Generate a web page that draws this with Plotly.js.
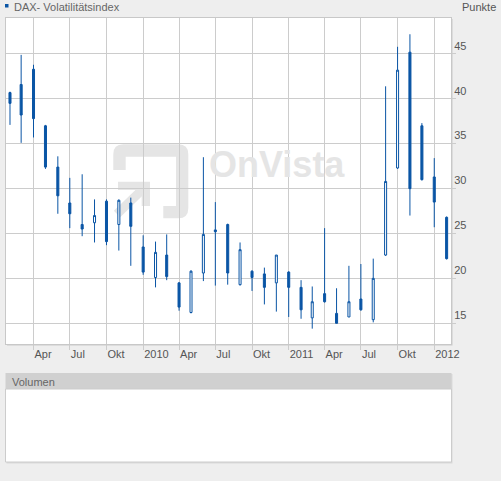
<!DOCTYPE html>
<html><head><meta charset="utf-8">
<script src="https://cdn.plot.ly/plotly-3.0.1.min.js"></script>
<style>html,body{margin:0;padding:0;background:#eeeeee;} #chart{width:501px;height:481px;}</style>
</head><body><div id="chart"></div>
<script>
const months = ['2009-02-01','2009-03-01','2009-04-01','2009-05-01','2009-06-01','2009-07-01','2009-08-01','2009-09-01','2009-10-01','2009-11-01','2009-12-01',
  '2010-01-01','2010-02-01','2010-03-01','2010-04-01','2010-05-01','2010-06-01','2010-07-01','2010-08-01','2010-09-01','2010-10-01','2010-11-01','2010-12-01',
  '2011-01-01','2011-02-01','2011-03-01','2011-04-01','2011-05-01','2011-06-01','2011-07-01','2011-08-01','2011-09-01','2011-10-01','2011-11-01','2011-12-01',
  '2012-01-01','2012-02-01'];
const openV  = [40.7,41.6,43.3,37.0,32.4,28.4,26.0,26.2,28.6,26.0,28.4, 23.5,20.1,22.6,19.5,16.2,20.6,25.4,26.0,19.3,20.8,20.5,19.5, 20.7,19.0,15.6,18.3,16.1,15.7,17.7,15.4,22.6,32.3,45.2,37.0, 31.3,26.8];
const highV  = [40.8,44.9,43.8,37.1,33.6,31.2,31.6,28.8,28.8,28.8,29.0, 24.8,24.1,24.9,19.6,20.9,33.5,28.5,26.1,24.0,20.9,21.2,22.6, 20.8,19.8,19.1,25.6,18.9,21.4,21.6,22.2,41.4,45.8,47.2,37.3, 33.4,26.9];
const lowV   = [37.1,35.1,35.7,32.2,27.2,25.6,24.7,24.0,23.7,23.1,21.4, 20.4,19.0,19.8,16.4,16.1,19.7,19.2,19.3,19.2,18.6,17.1,16.3, 15.7,15.5,14.4,17.3,15.0,15.7,16.4,15.1,22.5,32.2,27.0,30.9, 25.7,22.1];
const closeV = [39.5,38.2,37.8,32.4,29.2,27.2,25.5,27.0,24.1,28.7,25.8, 20.7,22.9,20.2,16.8,20.8,24.9,25.2,20.6,23.2,20.1,19.0,22.6, 19.0,16.5,17.4,17.4,15.0,17.4,16.5,20.0,30.8,43.2,30.0,31.0, 28.5,22.2];
const xTickDates  = ['2009-04-01','2009-07-01','2009-10-01','2010-01-01','2010-04-01','2010-07-01','2010-10-01','2011-01-01','2011-04-01','2011-07-01','2011-10-01','2012-01-01'];
const xTickLabels = ['Apr','Jul','Okt','2010','Apr','Jul','Okt','2011','Apr','Jul','Okt','2012'];
const yTicks = [15,20,25,30,35,40,45];
const seriesName = 'DAX- Volatilitätsindex';
const unitLabel = 'Punkte';
const volumeLabel = 'Volumen';
const watermark = 'OnVista';

const BLUE = '#0a55a5';
const FONT = 'Liberation Sans, Arial, sans-serif';
const W = 501, H = 481, ML = 6, MR = 50, MT = 18, MB = 19;
const PW = W - ML - MR, PH = H - MT - MB;
const px = x => (x - ML) / PW;
const py = y => (H - MB - y) / PH;
const pth = s => s.replace(/(-?[\d.]+),(-?[\d.]+)/g, (m, a, b) => px(+a).toFixed(5) + ',' + py(+b).toFixed(5));
const WM = '#e5e5e5';

const trace = {
  type: 'candlestick', x: months, open: openV, high: highV, low: lowV, close: closeV,
  increasing: {line: {color: BLUE, width: 1}, fillcolor: '#ffffff'},
  decreasing: {line: {color: BLUE, width: 1}, fillcolor: BLUE},
  whiskerwidth: 0, hoverinfo: 'skip', showlegend: false, name: seriesName
};

const shapes = [
  // watermark logo
  {type: 'path', xref: 'paper', yref: 'paper', layer: 'below', fillcolor: WM, line: {width: 0},
   path: pth('M113.3,170 L113.3,154.3 Q113.3,144.3 123.3,144.3 L178.3,144.3 Q188.3,144.3 188.3,154.3 L188.3,208.3 Q188.3,218.3 178.3,218.3 L163.3,218.3 L163.3,206 L176,206 L176,156.7 L125.7,156.7 L125.7,170 Z')},
  {type: 'path', xref: 'paper', yref: 'paper', layer: 'below', fillcolor: WM, line: {width: 0},
   path: pth('M118,181.7 L150,181.7 L150,206 L141.7,206 L141.7,190 L118,190 Z')},
  {type: 'line', xref: 'paper', yref: 'paper', layer: 'below', line: {color: WM, width: 9},
   x0: px(117), y0: py(214), x1: px(145), y1: py(187)},
  // plot shadow
  {type: 'line', xref: 'paper', yref: 'paper', layer: 'below', line: {color: '#dcdcdc', width: 1},
   x0: px(7), y0: py(345.5), x1: px(452), y1: py(345.5)},
  {type: 'line', xref: 'paper', yref: 'paper', layer: 'below', line: {color: '#dcdcdc', width: 1},
   x0: px(452.5), y0: py(19), x1: px(452.5), y1: py(345.5)},
  // legend square
  {type: 'rect', xref: 'paper', yref: 'paper', fillcolor: BLUE, line: {width: 0},
   x0: px(5), x1: px(8.5), y0: py(7.5), y1: py(4)},
  // volume panel
  {type: 'rect', xref: 'paper', yref: 'paper', layer: 'below', fillcolor: '#dadada', line: {width: 0},
   x0: px(6.5), x1: px(452.5), y0: py(463.5), y1: py(374)},
  {type: 'rect', xref: 'paper', yref: 'paper', layer: 'below', fillcolor: '#d0d0d0', line: {width: 0},
   x0: px(5.5), x1: px(451.5), y0: py(389), y1: py(373)},
  {type: 'rect', xref: 'paper', yref: 'paper', layer: 'below', fillcolor: '#ffffff', line: {color: '#cccccc', width: 1},
   x0: px(5.5), x1: px(451.5), y0: py(462), y1: py(389)}
];

const annotations = [
  {xref: 'paper', yref: 'paper', x: px(11.5), y: py(7), xanchor: 'left', yanchor: 'middle', showarrow: false,
   text: seriesName, font: {family: FONT, size: 11, color: '#666666'}},
  {xref: 'paper', yref: 'paper', x: px(460.5), y: py(6.5), xanchor: 'left', yanchor: 'middle', showarrow: false,
   text: unitLabel, font: {family: FONT, size: 11, color: '#555555'}},
  {xref: 'paper', yref: 'paper', x: px(10), y: py(381.5), xanchor: 'left', yanchor: 'middle', showarrow: false,
   text: volumeLabel, font: {family: FONT, size: 11, color: '#666666'}},
  {xref: 'paper', yref: 'paper', x: px(206.5), y: py(165), xanchor: 'left', yanchor: 'middle', showarrow: false,
   text: watermark, font: {family: FONT, size: 36, color: WM, weight: 'bold'}}
];

const layout = {
  width: W, height: H,
  margin: {l: ML, r: MR, t: MT, b: MB, pad: 0},
  paper_bgcolor: '#eeeeee', plot_bgcolor: '#ffffff',
  font: {family: FONT, size: 11, color: '#555555'},
  showlegend: false, boxgap: 0.74,
  xaxis: {
    type: 'date', range: ['2009-01-22', '2012-02-12'],
    tickmode: 'array', tickvals: xTickDates, ticktext: xTickLabels,
    ticks: 'outside', ticklen: 5, tickcolor: '#cccccc', tickwidth: 1,
    ticklabelposition: 'outside right',
    tickfont: {family: FONT, size: 11, color: '#555555'},
    showgrid: true, gridcolor: '#cccccc', gridwidth: 1,
    showline: true, linecolor: '#c8c8c8', linewidth: 1, mirror: true,
    rangeslider: {visible: false}, fixedrange: true
  },
  yaxis: {
    domain: [py(344), 1], side: 'right', range: [12.69, 49.01],
    tickmode: 'array', tickvals: yTicks,
    ticks: 'outside', ticklen: 4, tickcolor: '#cccccc', tickwidth: 1,
    ticklabelposition: 'outside top',
    tickfont: {family: FONT, size: 11, color: '#555555'},
    showgrid: true, gridcolor: '#cccccc', gridwidth: 1, zeroline: false,
    showline: true, linecolor: '#c8c8c8', linewidth: 1, mirror: true, fixedrange: true
  },
  shapes: shapes, annotations: annotations
};

Plotly.newPlot('chart', [trace], layout, {displayModeBar: false, staticPlot: true});
</script></body></html>
